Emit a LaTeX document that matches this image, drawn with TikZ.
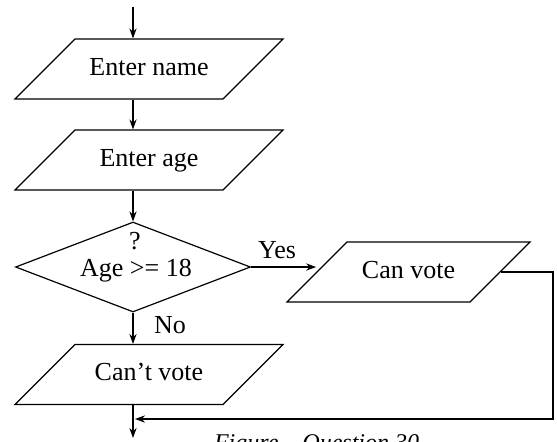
\documentclass[tikz,border=0pt]{standalone}
\usepackage{fontspec}
\setmainfont{Liberation Serif}
\usetikzlibrary{shapes.geometric,arrows.meta}

\begin{document}
\begin{tikzpicture}[x=0.5pt,y=-0.5pt,
		flow/.style={line width=0.6pt,-{Stealth[length=5pt,width=3.6pt]}},
		io/.style={draw,line width=0.6pt,trapezium,trapezium left angle=45,trapezium right angle=135,trapezium stretches body,text height=9pt,text depth=3pt,inner xsep=0pt,inner ysep=9pt,font=\fontsize{13}{15}\selectfont},
		decision/.style={draw,line width=0.6pt,diamond,minimum width=117.5pt,minimum height=45pt,inner sep=0pt},
		txt/.style={font=\fontsize{13}{15}\selectfont}]
		%%%%% START %%%%%
		\useasboundingbox (0,0) rectangle (557,441);
		
		\coordinate (start) at (133,7);
		\node[io,minimum width=134pt] (name) at (149,69) {Enter name};
		\node[io,minimum width=134pt] (age) at (149,160) {Enter age};
		
		\node[decision] (dec) at (133,267) {};
		\node[txt,anchor=base] (decq) at (135,249) {?};
		\node[txt,anchor=base] (dect) at (136,276) {Age >= 18};
		
		\node[io,minimum width=121.5pt] (can) at (408.5,272) {Can vote};
		\node[io,minimum width=134pt] (cant) at (149,374.5) {Can't vote};
		
		\coordinate (corner) at (553,419);
		\coordinate (merge) at (135,419);
		\coordinate (finish) at (133,438);
		
		\draw[flow] (start) -- (start |- name.north);
		\draw[flow] (start |- name.south) -- (start |- age.north);
		\draw[flow] (start |- age.south) -- (dec.north);
		\draw[flow] (dec.south) -- (dec.south |- cant.north);
		\node[txt] (no) at (170,325) {No};
		\draw[flow] (dec.east) -- (dec.east -| can.left side);
		\node[txt] (yes) at (277,250) {Yes};
		\draw[flow] (can.right side) -| (corner) -- (merge);
		\draw[flow] (start |- cant.south) -- (finish);
		
		\node[txt,anchor=base west,font=\itshape\fontsize{12}{14}\selectfont] (cap) at (207,450) {Figure – Question 30};
		%%%%% END %%%%%
\end{tikzpicture}
\end{document}
